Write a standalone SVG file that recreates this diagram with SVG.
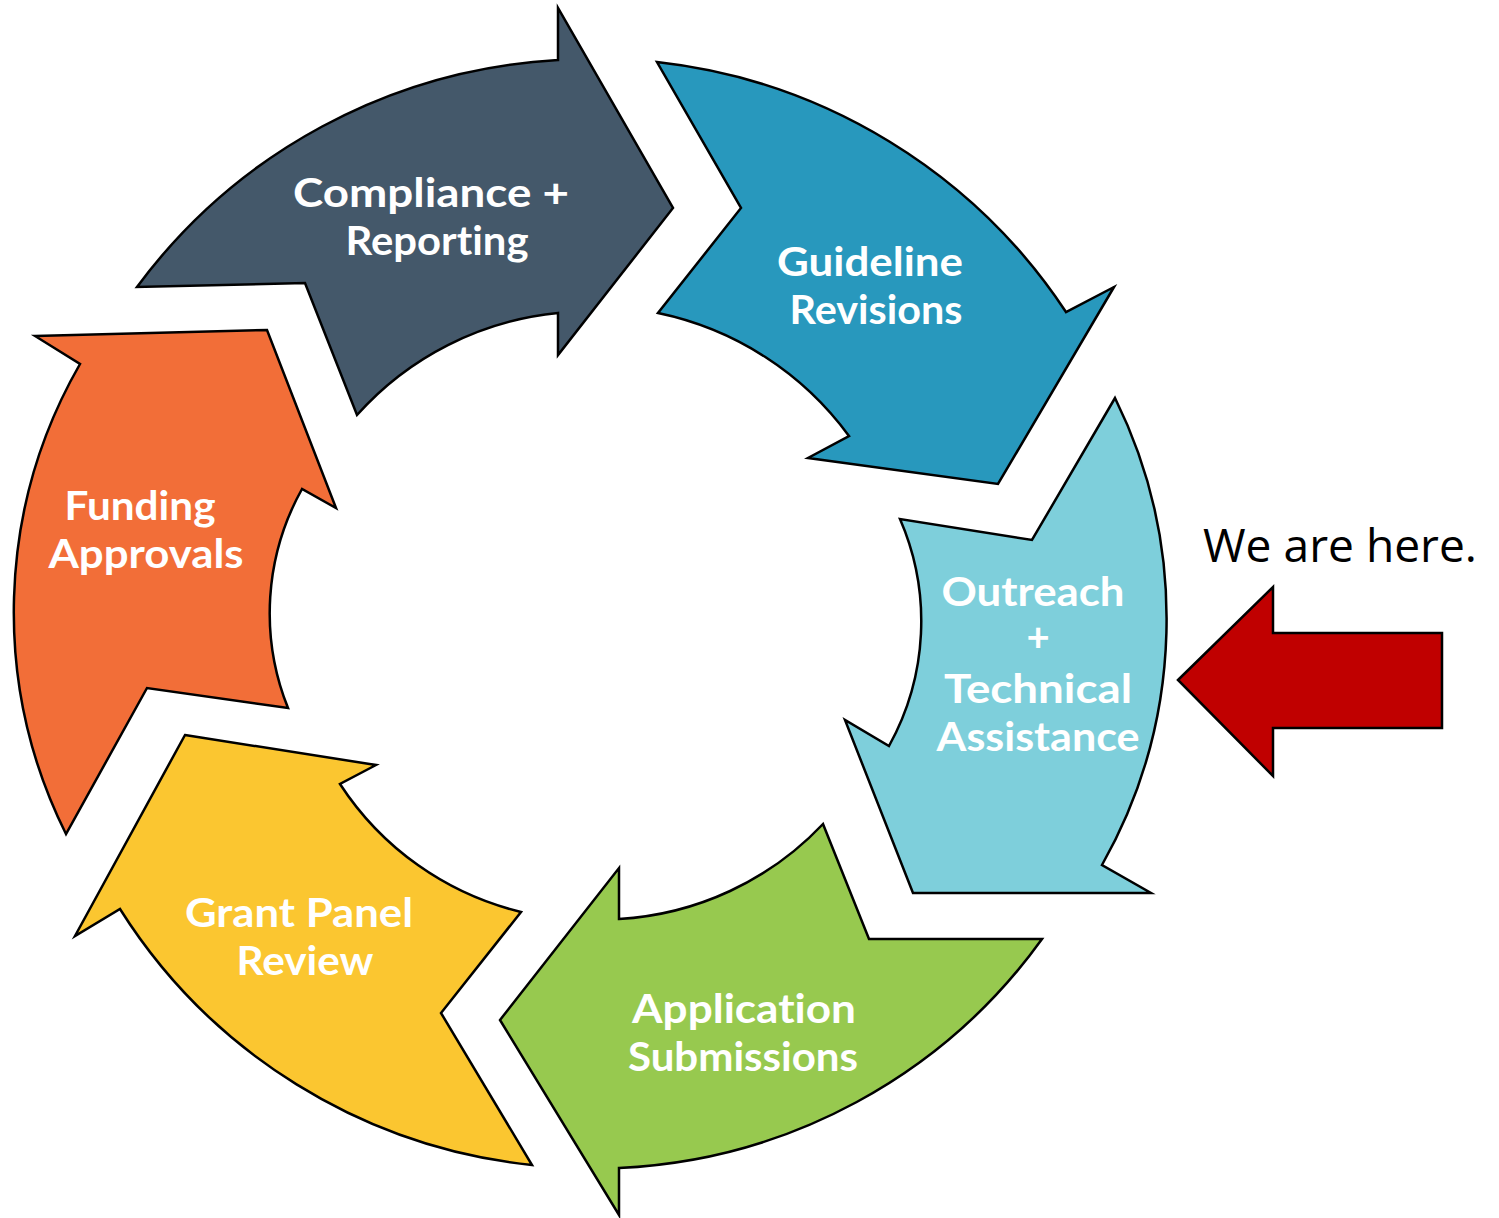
<svg xmlns="http://www.w3.org/2000/svg" width="1499" height="1218" viewBox="0 0 1499 1218">
<style>
.seg{stroke:#000;stroke-width:2.5;stroke-linejoin:miter}
.lbl{font-family:Lato,"Open Sans","Liberation Sans",sans-serif;font-weight:bold;font-size:40px;fill:#fff;text-anchor:middle;font-variant-ligatures:none;font-feature-settings:"liga" 0}
.note{font-family:"Open Sans","Liberation Sans",sans-serif;font-size:46px;fill:#000}
</style>
<rect width="1499" height="1218" fill="#fff"/>
<g id="compliance">
<path class="seg" fill="#44586A" d="M558,8 L558,60 A562,562 0 0 0 137,287 L305,283 L357,415 A310,310 0 0 1 558,313 L558,355 L673,208 Z"/>
<text class="lbl" x="431" y="207" textLength="276" lengthAdjust="spacingAndGlyphs">Compliance +</text>
<text class="lbl" x="437" y="255" textLength="183" lengthAdjust="spacingAndGlyphs">Reporting</text>
</g>
<g id="guideline">
<path class="seg" fill="#2898BD" d="M657,62 A565,565 0 0 1 1066,312 L1114,287 L998,484 L808,458 L849,436 A316,316 0 0 0 658,313 L741,208 Z"/>
<text class="lbl" x="870" y="276" textLength="186" lengthAdjust="spacingAndGlyphs">Guideline</text>
<text class="lbl" x="876" y="324" textLength="173" lengthAdjust="spacingAndGlyphs">Revisions</text>
</g>
<g id="outreach">
<path class="seg" fill="#7ECFDB" d="M1115,398 A500,500 0 0 1 1102,865 L1151,893 L913,893 L845,720 L889,746 A257,257 0 0 0 900,519 L1032,540 Z"/>
<text class="lbl" x="1033" y="606" textLength="183" lengthAdjust="spacingAndGlyphs">Outreach</text>
<text class="lbl" x="1038" y="651">+</text>
<text class="lbl" x="1038" y="703" textLength="188" lengthAdjust="spacingAndGlyphs">Technical</text>
<text class="lbl" x="1038" y="751" textLength="203" lengthAdjust="spacingAndGlyphs">Assistance</text>
</g>
<g id="application">
<path class="seg" fill="#97C94F" d="M823,824 L869,939 L1042,939 A552,552 0 0 1 619,1168 L619,1215 L500,1020 L619,868 L619,919 A305,305 0 0 0 823,824 Z"/>
<text class="lbl" x="744" y="1023" textLength="224" lengthAdjust="spacingAndGlyphs">Application</text>
<text class="lbl" x="743" y="1071" textLength="230" lengthAdjust="spacingAndGlyphs">Submissions</text>
</g>
<g id="grant">
<path class="seg" fill="#FBC630" d="M185,735 L376,765 L340,784 A300,300 0 0 0 521,912 L441,1013 L532,1165 A555,555 0 0 1 120,909 L75,936 Z"/>
<text class="lbl" x="299" y="927" textLength="228" lengthAdjust="spacingAndGlyphs">Grant Panel</text>
<text class="lbl" x="305" y="975" textLength="137" lengthAdjust="spacingAndGlyphs">Review</text>
</g>
<g id="funding">
<path class="seg" fill="#F26E38" d="M35,336 L267,330 L336,508 L302,489 A255,255 0 0 0 288,708 L147,688 L66,834 A498,498 0 0 1 80,364 Z"/>
<text class="lbl" x="140" y="520" textLength="151" lengthAdjust="spacingAndGlyphs">Funding</text>
<text class="lbl" x="146" y="568" textLength="195" lengthAdjust="spacingAndGlyphs">Approvals</text>
</g>
<g id="connectors">
<path id="here-arrow" stroke="#000" stroke-width="2.5" fill="#C00000" d="M1178,680 L1273,587 L1273,633 L1442,633 L1442,728 L1273,728 L1273,776 Z"/>
</g>
<g id="note">
<text class="note" x="1203" y="562" textLength="274" lengthAdjust="spacingAndGlyphs">We are here.</text>
</g>
</svg>
